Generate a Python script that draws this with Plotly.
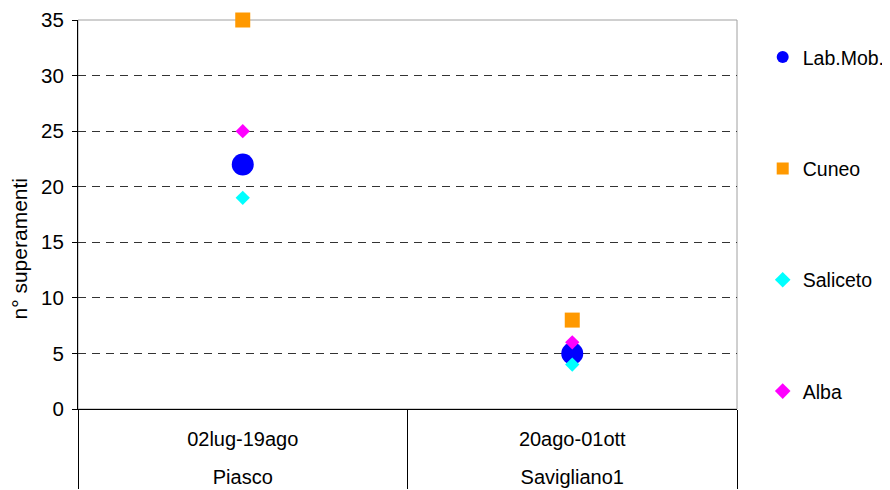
import plotly.graph_objects as go

# Data
sites = ["Piasco", "Savigliano1"]
periods = ["02lug-19ago", "20ago-01ott"]
lab_mob = [22, 5]
cuneo = [35, 8]
saliceto = [19, 4]
alba = [25, 6]
y_title = "n° superamenti"

FONT = "Arial, Liberation Sans, sans-serif"
# outer level shown below the inner level; leading break pushes it lower
x = [["<br>" + s for s in sites], periods]

series = [
    ("Lab.Mob.", lab_mob, "circle", 22, "#0000FF"),
    ("Cuneo", cuneo, "square", 15, "#FF9900"),
    ("Saliceto", saliceto, "diamond", 11, "#00FFFF"),
    ("Alba", alba, "diamond", 11, "#FF00FF"),
]

fig = go.Figure()
for i, (name, vals, sym, sz, col) in enumerate(series):
    fig.add_trace(go.Scatter(
        x=x, y=vals, mode="markers", name=name, legendgroup=f"g{i}",
        marker=dict(symbol=sym, size=sz, color=col, line=dict(width=0)),
        cliponaxis=False,
    ))

# page body has an 8px margin, so the figure is 8px smaller than the window
fig.update_layout(
    width=882, height=482,
    margin=dict(l=70, r=153, t=12, b=81, autoexpand=False),
    paper_bgcolor="white", plot_bgcolor="white",
    font=dict(family=FONT, size=20, color="black"),
    showlegend=True,
    legend=dict(
        x=1.039, xanchor="left", y=0.954, yanchor="top",
        tracegroupgap=83, itemsizing="constant",
        font=dict(family=FONT, size=19.5, color="black"),
        bgcolor="rgba(0,0,0,0)",
    ),
    shapes=[dict(type="rect", xref="paper", yref="paper", x0=0, x1=1, y0=0, y1=1,
                 line=dict(color="#A0A0A0", width=1), layer="below")],
    annotations=[dict(text=y_title, textangle=-90, xref="paper", yref="paper",
                      x=-0.089, y=0.411, xanchor="center", yanchor="middle",
                      showarrow=False, font=dict(family=FONT, size=21, color="black"))],
)

fig.update_yaxes(
    range=[0, 35], dtick=5, showline=True, linecolor="black", linewidth=1,
    ticks="outside", ticklen=5, tickcolor="black", ticklabelstandoff=4,
    tickfont=dict(family=FONT, size=20.5),
    showgrid=True, gridcolor="#333333", griddash="8px,6px", gridwidth=1,
    zeroline=False, automargin=False,
)
fig.update_xaxes(
    type="multicategory", range=[-0.5, 1.5],
    showline=True, linecolor="black", linewidth=1,
    showgrid=False, zeroline=False, ticks="", automargin=False,
    ticklabelstandoff=12,
    showdividers=True, dividercolor="black", dividerwidth=1,
)

fig.write_html("out.html")
